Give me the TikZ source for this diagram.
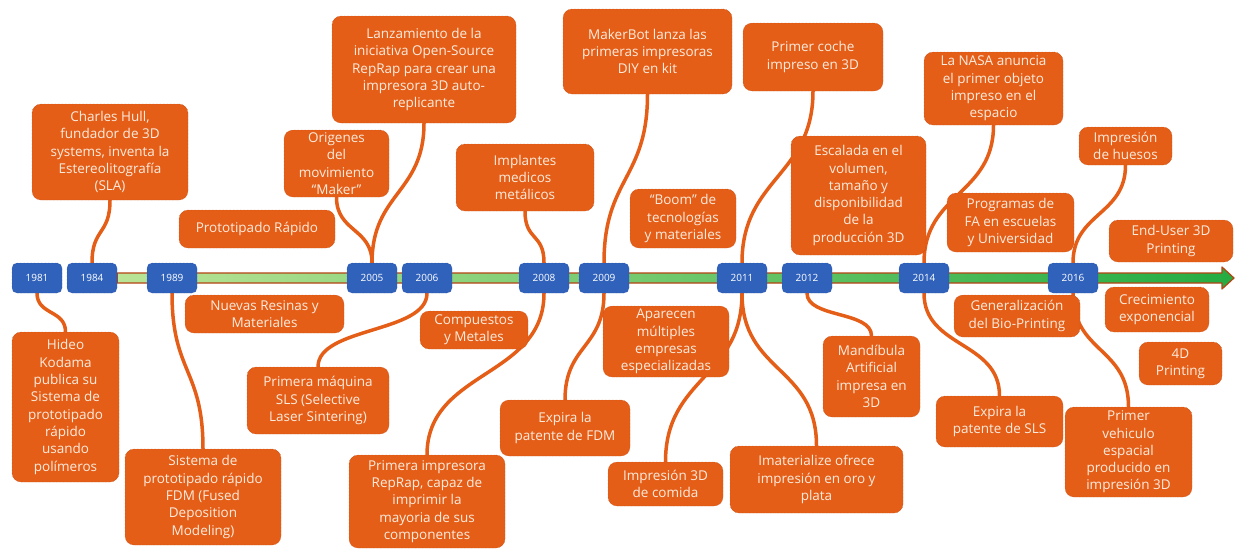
\documentclass[tikz,border=0pt]{standalone}
\usepackage{fontspec}
\setmainfont{Open Sans}
\usetikzlibrary{arrows.meta}
\pgfdeclarelayer{background}
\pgfsetlayers{background,main}

\definecolor{evtorange}{RGB}{228,94,24}
\definecolor{evtedge}{RGB}{180,68,20}
\definecolor{evttext}{RGB}{253,236,222}
\definecolor{yrblue}{RGB}{48,98,188}
\definecolor{yredge}{RGB}{30,66,150}
\definecolor{barlight}{RGB}{186,228,150}
\definecolor{bardark}{RGB}{36,172,66}

\begin{document}
\begin{tikzpicture}[
    x=1pt, y=-1pt,
    evt/.style={rectangle, rounded corners=9pt, draw=evtedge, densely dotted, fill=evtorange, text=evttext, inner sep=2pt, align=center, font=\fontsize{13.5}{17.3}\selectfont},
    yr/.style={rectangle, rounded corners=5pt, draw=yredge, densely dotted, fill=yrblue, text=white, minimum width=50pt, minimum height=30pt, inner sep=1pt, font=\fontsize{10}{12}\selectfont},
    link/.style={draw=evtorange, line width=3.5pt, line cap=round}
  ]
    \useasboundingbox (0,0) rectangle (1237,550);

    % years on the time line
    \node[yr] (y1981) at (37,278) {1981};
    \node[yr] (y1984) at (92,278) {1984};
    \node[yr] (y1989) at (172,278) {1989};
    \node[yr] (y2005) at (372,278) {2005};
    \node[yr] (y2006) at (427,278) {2006};
    \node[yr] (y2008) at (544,278) {2008};
    \node[yr] (y2009) at (604,278) {2009};
    \node[yr] (y2011) at (742,278) {2011};
    \node[yr] (y2012) at (807,278) {2012};
    \node[yr] (y2014) at (924,278) {2014};
    \node[yr] (y2016) at (1073,278) {2016};
    \coordinate (tip) at (1234,278);

    % events above the line
    \node[evt, minimum width=156pt, minimum height=96pt] (hull) at (110,152) {Charles Hull,\\fundador de 3D\\systems, inventa la\\Estereolitografía\\(SLA)};
    \node[evt, minimum width=156pt, minimum height=38pt] (proto) at (257,229) {Prototipado Rápido};
    \node[evt, minimum width=105pt, minimum height=67pt] (origenes) at (336.5,163.5) {Origenes\\del\\movimiento\\“Maker”};
    \node[evt, minimum width=184pt, minimum height=107pt] (lanza) at (424,69.5) {Lanzamiento de la\\iniciativa Open-Source\\RepRap para crear una\\impresora 3D auto-\\replicante};
    \node[evt, minimum width=138pt, minimum height=67pt] (implantes) at (525,177.5) {Implantes\\medicos\\metálicos};
    \node[evt, minimum width=169pt, minimum height=85pt] (makerbot) at (647.5,51.5) {MakerBot lanza las\\primeras impresoras\\DIY en kit};
    \node[evt, minimum width=106pt, minimum height=59pt] (boom) at (683,218.5) {“Boom” de\\tecnologías\\y materiales};
    \node[evt, minimum width=140pt, minimum height=68pt] (coche) at (813,57) {Primer coche\\impreso en 3D};
    \node[evt, minimum width=135pt, minimum height=119pt] (escalada) at (858.5,195.5) {Escalada en el\\volumen,\\tamaño y\\disponibilidad\\de la\\producción 3D};
    \node[evt, minimum width=139pt, minimum height=73pt] (nasa) at (993.5,88.5) {La NASA anuncia\\el primer objeto\\impreso en el\\espacio};
    \node[evt, minimum width=127pt, minimum height=59pt] (programas) at (1010.5,222.5) {Programas de\\FA en escuelas\\y Universidad};
    \node[evt, minimum width=93pt, minimum height=38pt] (huesos) at (1125.5,146) {Impresión\\de huesos};
    \node[evt, minimum width=124pt, minimum height=42pt] (enduser) at (1171,241) {End-User 3D\\Printing};

    % events below the line
    \node[evt, minimum width=107pt, minimum height=150pt] (hideo) at (65.5,407) {Hideo\\Kodama\\publica su\\Sistema de\\prototipado\\rápido\\usando\\polímeros};
    \node[evt, minimum width=159pt, minimum height=38pt] (resinas) at (264.5,314) {Nuevas Resinas y\\Materiales};
    \node[evt, minimum width=156pt, minimum height=96pt] (fdm) at (203,497) {Sistema de\\prototipado rápido\\FDM (Fused\\Deposition\\Modeling)};
    \node[evt, minimum width=142pt, minimum height=67pt] (sls) at (318,400.5) {Primera máquina\\SLS (Selective\\Laser Sintering)};
    \node[evt, minimum width=108pt, minimum height=38pt] (compuestos) at (474,330) {Compuestos\\y Metales};
    \node[evt, minimum width=156pt, minimum height=93pt] (reprap) at (427,501.5) {Primera impresora\\RepRap, capaz de\\imprimir la\\mayoria de sus\\componentes};
    \node[evt, minimum width=130pt, minimum height=56pt] (expfdm) at (565,428) {Expira la\\patente de FDM};
    \node[evt, minimum width=126pt, minimum height=71pt] (aparecen) at (666,341.5) {Aparecen\\múltiples\\empresas\\especializadas};
    \node[evt, minimum width=115pt, minimum height=44pt] (comida) at (665.5,484) {Impresión 3D\\de comida};
    \node[evt, minimum width=173pt, minimum height=67pt] (imaterialize) at (816.5,479.5) {Imaterialize ofrece\\impresión en oro y\\plata};
    \node[evt, minimum width=97pt, minimum height=81pt] (mandibula) at (871.5,376.5) {Mandíbula\\Artificial\\impresa en\\3D};
    \node[evt, minimum width=126pt, minimum height=42pt] (bioprint) at (1017,316) {Generalización\\del Bio-Printing};
    \node[evt, minimum width=127pt, minimum height=51pt] (expsls) at (999.5,421.5) {Expira la\\patente de SLS};
    \node[evt, minimum width=104pt, minimum height=45pt] (crecimiento) at (1157,309.5) {Crecimiento\\exponencial};
    \node[evt, minimum width=83pt, minimum height=43pt] (fourd) at (1180.5,363.5) {4D\\Printing};
    \node[evt, minimum width=127pt, minimum height=90pt] (vehiculo) at (1128.5,452) {Primer\\vehiculo\\espacial\\producido en\\impresión 3D};

    \begin{pgfonlayer}{background}
      % time line arrow
      \draw[evtedge, line width=1.2pt, line join=round, left color=barlight, right color=bardark]
        (y1984.east |- 0,273) -- (1222,273) -- (1222,267) -- (tip) -- (1222,289) -- (1222,283) -- (y1984.east |- 0,283) -- cycle;

      % links upwards
      \draw[link] (y1984.north) .. controls +(0,-35) and +(0,35) .. (hull.south);
      \draw[link] (y2005.north) .. controls +(0,-35) and +(0,35) .. (origenes.south);
      \draw[link] (y2005.north) .. controls +(0,-70) and +(0,70) .. (lanza.south);
      \draw[link] (y2008.north) .. controls +(0,-30) and +(0,30) .. (implantes.south);
      \draw[link] (y2009.north) .. controls +(0,-85) and +(0,85) .. (makerbot.south);
      \draw[link] (y2011.north) .. controls +(0,-85) and +(0,85) .. (coche.south);
      \draw[link] (y2014.north) .. controls +(0,-70) and +(0,70) .. (nasa.south);
      \draw[link] (y2016.north) .. controls +(0,-50) and +(0,50) .. (huesos.south);

      % links downwards
      \draw[link] (y1981.south) .. controls +(0,22) and +(0,-22) .. (hideo.north);
      \draw[link] (y1989.south) .. controls +(0,80) and +(0,-80) .. (fdm.north);
      \draw[link] (y2006.south) .. controls +(0,40) and +(0,-40) .. (sls.north);
      \draw[link] (y2008.south) .. controls +(0,85) and +(0,-85) .. (reprap.north);
      \draw[link] (y2009.south) .. controls +(0,55) and +(0,-55) .. (expfdm.north);
      \draw[link] (y2011.south) .. controls +(0,85) and +(0,-85) .. (comida.north);
      \draw[link] (y2011.south) .. controls +(0,80) and +(0,-80) .. (imaterialize.north);
      \draw[link] (y2012.south) .. controls +(0,25) and +(0,-25) .. (mandibula.north);
      \draw[link] (y2014.south) .. controls +(0,55) and +(0,-55) .. (expsls.north);
      \draw[link] (y2016.south) .. controls +(0,60) and +(0,-60) .. (vehiculo.north);
    \end{pgfonlayer}
  \end{tikzpicture}
\end{document}
